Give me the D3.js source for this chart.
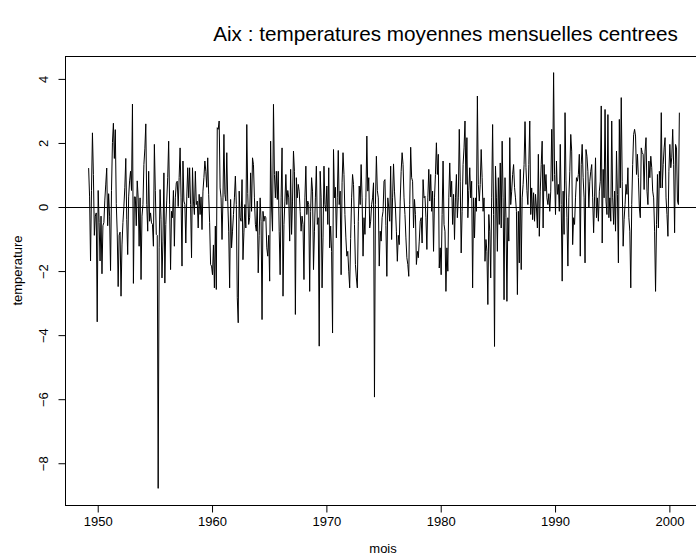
<!DOCTYPE html>
<html>
<head>
<meta charset="utf-8">
<script src="https://cdn.jsdelivr.net/npm/d3@7"></script>
<style>
  body { margin: 0; background: #fff; }
  text { font-family: "Liberation Sans", Arial, Helvetica, sans-serif; fill: #000; }
</style>
</head>
<body>
<div id="wrapper"></div>
<script>
// monthly centred temperatures, starting april 1949
const startYear = 1949 + 3 / 12

const temperature = [
  // 1949-1953
  1.2,0.3,-1.7,0.5,2.3,1.0,-0.9,-0.3,-0.2,-3.6,0.5,-0.5,-1.7,-0.3,-2.1,-0.6,-0.5,0.2,0.7,1.2,-0.6,0.4,-0.3,-2.0,0.5,2.0,
  2.6,1.5,2.4,0.1,-0.8,-2.5,-0.9,-0.8,-2.8,-1.2,-0.5,0.0,0.6,1.5,-0.4,-1.5,0.3,0.8,1.1,0.5,3.2,-2.4,0.3,0.3,-0.6,0.8,
  // 1953-1957
  0.27,-1.24,0.27,-2.28,-0.30,0.06,1.31,1.8,2.58,0.06,-0.77,1.10,-0.46,-0.2,-0.51,-0.56,-1.24,1.94,0.5,-0.87,-0.9,-8.8,
  -1.29,0.53,-0.4,-2.23,-1.08,1.05,-2.39,-0.56,0.2,0.90,2.04,0.06,-1.97,-0.15,-0.35,0.5,-1.24,0.27,0.74,0.79,0.0,0.9,
  1.83,0.27,-1.86,1.42,0.17,0.06,-1.14,0.3,
  // 1958-1962
  1.21,0.27,1.21,0.06,-1.60,1.21,0.17,-0.25,1.10,0.06,0.17,-0.67,0.38,-0.25,0.3,-0.72,0.48,0.9,1.42,1.10,0.6,1.52,0.38,
  -0.5,-1.81,-1.86,-2.13,-1.2,-2.54,-0.61,-2.59,2.46,2.41,2.67,0.58,0.27,-1.03,0.27,2.25,0.38,0.17,1.68,0.17,-0.77,
  -2.54,0.22,-1.29,-0.77,-0.25,0.27,0.95,0.06,-2.85,
  // 1962-1966
  -3.63,0.48,-0.35,-0.46,0.84,-1.66,-0.8,0.06,-0.67,2.56,0.4,-0.56,-0.35,1.05,-0.15,1.52,1.31,0.27,-0.56,-0.77,0.17,
  -2.07,-0.9,0.27,-0.46,-3.53,-0.15,-0.46,-0.30,-0.35,-1.29,-1.55,-0.9,-2.33,2.04,-0.04,-0.77,3.19,1.0,0.27,1.10,0.22,
  1.10,-0.77,-2.13,0.27,1.83,-2.80,-0.56,0.17,1.00,0.06,0.5,
  // 1966-1971
  0.27,-1.08,1.16,-0.87,0.17,1.73,1.10,-3.37,0.90,0.27,0.69,0.48,-0.15,-0.77,-0.3,-0.56,-2.28,0.27,1.26,-0.25,0.17,
  0.06,-2.65,-0.15,0.90,0.48,-1.97,-0.77,0.27,1.26,-0.56,-0.35,-4.36,1.10,0.27,-2.54,-0.98,1.26,0.06,-0.15,0.64,-0.56,
  1.21,-1.29,-0.61,-1.40,-3.95,1.78,0.27,0.6,-0.98,0.27,
  // 1971-1975
  1.75,0.06,0.48,-2.13,0.74,1.68,1.00,-0.25,-0.98,-1.55,-1.40,-2.02,-2.54,-1.0,0.27,1.00,0.69,-0.56,-1.81,-2.23,-2.54,
  -0.46,0.64,0.06,1.31,0.27,-1.55,-0.35,-0.87,0.27,2.20,0.48,0.90,-0.67,-0.46,0.06,0.27,0.74,-5.95,0.06,1.57,0.5,0.27,
  -1.86,-0.77,-1.08,-0.35,-0.15,0.79,0.84,-0.6,-2.18,0.27,
  // 1975-1979
  -0.04,-0.46,1.26,-1.03,0.27,1.33,0.48,-0.04,-0.77,-1.71,-0.9,-1.19,0.17,1.10,1.68,1.31,0.27,-0.25,-0.98,-1.60,-1.81,
  -2.18,0.06,1.85,0.90,0.79,-0.67,0.22,-0.25,-1.81,-1.40,-1.60,-1.08,-0.46,-0.35,-1.14,0.84,0.27,0.32,-0.35,-1.34,0.27,
  1.16,0.17,1.00,-0.15,0.48,-1.40,0.27,1.00,1.99,1.0,
  // 1980-1984
  1.63,-1.92,-1.29,-2.13,-0.25,1.42,-0.56,-0.77,-2.65,-1.29,-2.02,0.27,1.36,0.3,0.79,-0.56,0.38,-1.03,0.27,1.00,-0.35,
  0.27,2.41,0.79,-1.45,-0.15,1.31,1.83,2.67,0.69,2.15,-0.35,0.5,1.21,0.27,0.79,-2.54,0.27,-0.98,0.27,-0.15,3.45,0.69,
  0.17,0.69,1.78,0.9,-0.15,0.27,-1.71,-1.03,-1.40,-3.06,
  // 1984-1988
  -0.25,-0.77,-2.23,0.27,2.56,-0.25,-4.37,1.26,0.27,-1.40,0.90,-0.56,1.36,-0.67,2.04,0.27,-2.91,0.90,-0.35,-2.96,-0.35,
  -1.08,2.15,0.06,0.48,1.00,1.31,0.6,0.27,-0.15,-2.75,-0.15,-1.76,1.16,-1.97,0.27,0.69,1.31,2.65,1.21,0.5,0.06,1.31,
  2.67,-0.25,0.58,-0.41,0.43,-0.46,0.38,-0.04,-0.67,1.63,
  // 1988-1993
  -0.93,0.48,1.31,2.04,-0.67,1.31,0.48,1.00,0.27,0.06,0.4,-0.15,0.48,2.41,0.79,4.18,1.00,-0.25,1.42,0.38,0.69,-0.15,
  1.94,0.06,-2.33,0.48,-0.87,2.93,0.8,-0.35,-1.86,0.27,1.10,2.25,1.73,-1.19,-0.35,-0.56,0.27,0.90,0.79,1.00,1.63,
  -1.55,1.31,1.94,0.9,0.27,-1.76,1.78,1.57,1.10,
  // 1993-1997
  -0.04,0.79,1.10,1.31,0.27,-0.82,0.3,1.52,-0.35,0.27,-0.46,0.48,0.79,3.14,-1.14,1.16,0.27,3.03,0.17,-0.25,2.87,-0.35,
  0.27,-0.46,2.67,0.27,-0.56,0.48,-0.77,1.73,0.38,-1.76,2.72,0.58,3.40,0.79,-1.24,-0.4,0.06,0.69,0.38,1.21,-0.35,
  -0.77,-2.54,0.06,1.31,2.25,2.41,2.20,1.00,1.63,0.9,
  // 1997-2000
  -0.04,-0.35,1.83,1.68,1.63,0.53,1.73,2.15,0.48,0.06,1.42,0.9,1.57,1.21,0.48,0.27,-0.77,-2.65,-0.56,1.00,-0.67,1.10,
  0.58,2.93,0.58,1.31,1.83,2.15,0.27,-0.25,-0.93,1.10,1.94,1.21,1.52,2.41,1.31,-0.82,1.94,1.83,0.17,0.06,2.93
]

const xTicks = [1950, 1960, 1970, 1980, 1990, 2000]
const yTicks = [-8, -6, -4, -2, 0, 2, 4]

const titleText = "Aix : temperatures moyennes mensuelles centrees"
const xLabel = "mois"
const yLabel = "temperature"

function drawChart() {
  const data = temperature.map((v, i) => ({ t: startYear + i / 12, v }))
  const xAccessor = d => d.t
  const yAccessor = d => d.v

  // dimensions (plot box runs past the right edge of the picture)
  let dimensions = {
    width: 696,
    height: 560,
    box: { left: 65, right: 703, top: 56, bottom: 505 }
  }

  const wrapper = d3.select("#wrapper")
    .append("svg")
      .attr("width", dimensions.width)
      .attr("height", dimensions.height)

  // scales, padded 4% like R does
  const pad = ([a, b]) => [a - (b - a) * 0.04, b + (b - a) * 0.04]
  const xScale = d3.scaleLinear()
    .domain(pad(d3.extent(data, xAccessor)))
    .range([dimensions.box.left, dimensions.box.right])
  const yScale = d3.scaleLinear()
    .domain(pad(d3.extent(data, yAccessor)))
    .range([dimensions.box.bottom, dimensions.box.top])

  // zero line
  wrapper.append("line")
      .attr("x1", dimensions.box.left)
      .attr("x2", dimensions.box.right)
      .attr("y1", Math.round(yScale(0)) + 0.5)
      .attr("y2", Math.round(yScale(0)) + 0.5)
      .attr("stroke", "#000")
      .attr("stroke-width", 1)

  // series
  const lineGenerator = d3.line()
    .x(d => xScale(xAccessor(d)))
    .y(d => yScale(yAccessor(d)))

  wrapper.append("path")
      .attr("d", lineGenerator(data))
      .attr("fill", "none")
      .attr("stroke", "#000")
      .attr("stroke-width", 1)

  // box
  const b = dimensions.box
  wrapper.append("rect")
      .attr("x", b.left + 0.5)
      .attr("y", b.top + 0.5)
      .attr("width", b.right - b.left)
      .attr("height", b.bottom - b.top)
      .attr("fill", "none")
      .attr("stroke", "#000")

  // axes
  const xAxisGenerator = d3.axisBottom(xScale)
    .tickValues(xTicks)
    .tickFormat(d3.format("d"))
    .tickSize(7)
    .tickPadding(4)
  const xAxis = wrapper.append("g")
      .attr("transform", `translate(0.5, ${b.bottom + 0.5})`)
      .call(xAxisGenerator)
  xAxis.select(".domain")
      .attr("d", `M${xScale(xTicks[0])},0H${xScale(xTicks[xTicks.length - 1])}`)
  xAxis.selectAll("text")
      .style("font-size", "13px")
      .style("font-family", "'Liberation Sans', Arial, sans-serif")

  const yAxisGenerator = d3.axisLeft(yScale)
    .tickValues(yTicks)
    .tickSize(7)
    .tickPadding(4)
  const yAxis = wrapper.append("g")
      .attr("transform", `translate(${b.left + 0.5}, 0.5)`)
      .call(yAxisGenerator)
  yAxis.select(".domain")
      .attr("d", `M0,${yScale(yTicks[0])}V${yScale(yTicks[yTicks.length - 1])}`)
  yAxis.selectAll("text")
      .attr("x", 0)
      .attr("y", 0)
      .attr("dy", 0)
      .attr("text-anchor", "middle")
      .attr("transform", "translate(-18, 0) rotate(-90)")
      .style("font-size", "13px")
      .style("font-family", "'Liberation Sans', Arial, sans-serif")

  // labels
  wrapper.append("text")
      .attr("x", 445.5)
      .attr("y", 41)
      .attr("text-anchor", "middle")
      .style("font-size", "20.7px")
      .text(titleText)

  wrapper.append("text")
      .attr("x", (xScale(xTicks[0]) + xScale(xTicks[xTicks.length - 1])) / 2)
      .attr("y", 553)
      .attr("text-anchor", "middle")
      .style("font-size", "13px")
      .text(xLabel)

  wrapper.append("text")
      .attr("transform", `translate(22, ${yScale((yTicks[0] + yTicks[yTicks.length - 1]) / 2)}) rotate(-90)`)
      .attr("text-anchor", "middle")
      .style("font-size", "13px")
      .text(yLabel)
}

drawChart()
</script>
</body>
</html>
